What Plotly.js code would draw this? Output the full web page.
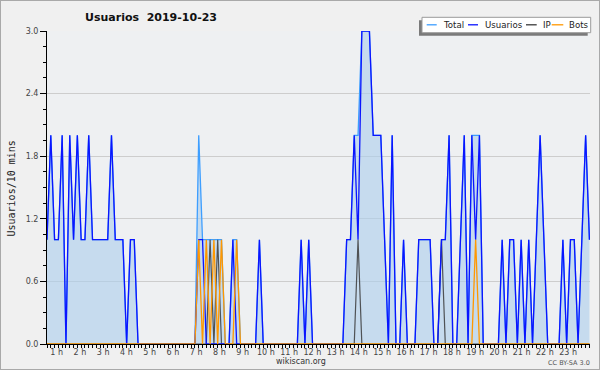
<!DOCTYPE html>
<html><head><meta charset="utf-8">
<script src="https://cdn.plot.ly/plotly-3.0.1.min.js"></script>
<style>
html,body{margin:0;padding:0;background:#f0f0f0;}
#wrap{width:600px;height:370px;box-sizing:border-box;border:1px solid #a9a9a9;overflow:hidden;}
#chart{width:598px;height:368px;}
</style></head><body><div id="wrap"><div id="chart"></div></div>
<script>
// 10-minute steps over the day (index 0..143)
const usuarios = [1,2,1,1,2,0,2,1,2,1, 1,2,1,1,1,1,1,2,1,1, 1,0,1,1,0,0,0,0,0,0,
  0,0,0,0,0,0,0,0,0,0, 1,1,0,0,0,0,0,0,0,1, 0,0,0,0,0,0,1,0,0,0,
  0,0,0,0,0,0,0,1,0,1, 0,0,0,0,0,0,0,0,0,1, 1,2,1,3,3,3,2,2,2,1,
  0,2,0,0,1,0,0,0,1,1, 1,1,0,0,1,1,2,0,0,1, 2,0,2,1,2,0,0,0,0,0,
  1,0,1,1,0,1,0,1,0,1, 2,1,0,0,0,0,1,0,1,1, 0,1,2,1];
const ip = [0,0,0,0,0,0,0,0,0,0, 0,0,0,0,0,0,0,0,0,0, 0,0,0,0,0,0,0,0,0,0,
  0,0,0,0,0,0,0,0,0,0, 0,0,0,1,0,1,0,0,0,0, 0,0,0,0,0,0,0,0,0,0,
  0,0,0,0,0,0,0,0,0,0, 0,0,0,0,0,0,0,0,0,0, 0,0,1,0,0,0,0,0,0,0,
  0,0,0,0,0,0,0,0,0,0, 0,0,0,0,1,0,0,0,0,0, 0,0,0,0,0,0,0,0,0,0,
  0,0,0,0,0,0,0,0,0,0, 0,0,0,0,0,0,0,0,0,0, 0,0,0,0];
const bots = [0,0,0,0,0,0,0,0,0,0, 0,0,0,0,0,0,0,0,0,0, 0,0,0,0,0,0,0,0,0,0,
  0,0,0,0,0,0,0,0,0,0, 1,0,1,0,1,0,1,0,0,0, 1,0,0,0,0,0,0,0,0,0,
  0,0,0,0,0,0,0,0,0,0, 0,0,0,0,0,0,0,0,0,0, 0,0,0,0,0,0,0,0,0,0,
  0,0,0,0,0,0,0,0,0,0, 0,0,0,0,0,0,0,0,0,0, 0,0,0,1,0,0,0,0,0,0,
  0,0,0,0,0,0,0,0,0,0, 0,0,0,0,0,0,0,0,0,0, 0,0,0,0];
const total = [1,2,1,1,2,0,2,1,2,1, 1,2,1,1,1,1,1,2,1,1, 1,0,1,1,0,0,0,0,0,0,
  0,0,0,0,0,0,0,0,0,0, 2,1,1,1,1,1,1,0,0,1, 1,0,0,0,0,0,1,0,0,0,
  0,0,0,0,0,0,0,1,0,1, 0,0,0,0,0,0,0,0,0,1, 1,2,2,3,3,3,2,2,2,1,
  0,2,0,0,1,0,0,0,1,1, 1,1,0,0,1,1,2,0,0,1, 2,0,2,2,2,0,0,0,0,0,
  1,0,1,1,0,1,0,1,0,1, 2,1,0,0,0,0,1,0,1,1, 0,1,2,1];
const hourLabels = ['1 h','2 h','3 h','4 h','5 h','6 h','7 h','8 h','9 h','10 h','11 h','12 h',
  '13 h','14 h','15 h','16 h','17 h','18 h','19 h','20 h','21 h','22 h','23 h'];
const yTicks = [0, 0.6, 1.2, 1.8, 2.4, 3.0];
const seriesNames = ['Total','Usuarios','IP','Bots'];
const seriesColors = ['#3d9eff','#0a14ff','#3a3a3a','#ff9800'];

const steps = usuarios.map((_, i) => i);

// plot area in pixels (inside the 598x368 chart div)
const L = 46, T = 30, W = 543, H = 313;
const px = x => (x - L) / W;
const py = y => (T + H - y) / H;

const traces = [
  {x: steps, y: total, type: 'scatter', mode: 'lines', fill: 'tozeroy',
   fillcolor: 'rgba(172,206,236,0.62)', line: {color: seriesColors[0], width: 1.3}, hoverinfo: 'skip'},
  {x: steps, y: ip, type: 'scatter', mode: 'lines', line: {color: seriesColors[2], width: 1.2}, opacity: 0.85},
  {x: steps, y: usuarios, type: 'scatter', mode: 'lines', line: {color: seriesColors[1], width: 1.3}},
  {x: steps, y: bots, type: 'scatter', mode: 'lines', line: {color: seriesColors[3], width: 1.3}}
];

const baseFont = {family: 'DejaVu Sans', size: 8, color: '#444'};

// legend box (manual, with offset shadow)
const lg = {l: 421, r: 589.7, t: 16.3, b: 31.7};
const shapes = [
  {type: 'rect', xref: 'paper', yref: 'paper', x0: px(lg.l - 3), x1: px(lg.r - 3), y0: py(lg.b + 3), y1: py(lg.t + 3),
   fillcolor: '#7a7a7a', line: {width: 0}, layer: 'above'},
  {type: 'rect', xref: 'paper', yref: 'paper', x0: px(lg.l), x1: px(lg.r), y0: py(lg.b), y1: py(lg.t),
   fillcolor: '#ffffff', line: {color: '#9a9a9a', width: 1}, layer: 'above'}
];
const legendItems = [
  {x0: 425.7, x1: 435.7, tx: 441},
  {x0: 467, x1: 477, tx: 482.5},
  {x0: 525, x1: 535.7, tx: 540.5},
  {x0: 550.7, x1: 562.3, tx: 566.5}
];
const annotations = [];
legendItems.forEach((it, k) => {
  shapes.push({type: 'line', xref: 'paper', yref: 'paper', x0: px(it.x0), x1: px(it.x1), y0: py(23.8), y1: py(23.8),
    line: {color: seriesColors[k], width: 1.3}, layer: 'above'});
  annotations.push({xref: 'paper', yref: 'paper', x: px(it.tx), y: py(24), xanchor: 'left', yanchor: 'middle',
    text: seriesNames[k], showarrow: false, font: {family: 'DejaVu Sans', size: 8.6, color: '#222'}, borderpad: 0});
});
annotations.push(
  {xref: 'paper', yref: 'paper', x: px(9.5), y: py(188), text: 'Usuarios/10 mins', textangle: -90, showarrow: false,
   xanchor: 'center', yanchor: 'middle', font: {family: 'DejaVu Sans Mono', size: 10, color: '#222'}},
  {xref: 'paper', yref: 'paper', x: px(300), y: py(360.5), text: 'wikiscan.org', showarrow: false,
   xanchor: 'center', yanchor: 'middle', font: {family: 'DejaVu Sans', size: 8, color: '#333'}},
  {xref: 'paper', yref: 'paper', x: px(568), y: py(361.5), text: 'CC BY-SA 3.0', showarrow: false,
   xanchor: 'center', yanchor: 'middle', font: {family: 'DejaVu Sans', size: 6.5, color: '#555'}}
);

const layout = {
  width: 598, height: 368,
  margin: {l: L, r: 598 - L - W, t: T, b: 368 - T - H, pad: 0},
  paper_bgcolor: '#f0f0f0', plot_bgcolor: '#eef0f2',
  showlegend: false,
  title: {text: 'Usuarios\u00a0\u00a02019-10-23', font: {family: 'DejaVu Sans', size: 11, color: '#111', weight: 'bold'},
          xref: 'container', yref: 'container', x: 150 / 598, xanchor: 'center', y: 1 - 16.5 / 368, yanchor: 'middle'},
  xaxis: {
    range: [0, 143.15], showline: true, linecolor: '#000', linewidth: 1, mirror: false, zeroline: false, showgrid: false,
    tickmode: 'array', tickvals: hourLabels.map((_, k) => (k + 1) * 6.13 - 3.6), ticktext: hourLabels,
    ticks: 'outside', ticklen: 0, tickfont: baseFont,
    minor: {tick0: 0, dtick: 1, ticks: 'outside', ticklen: 3, tickcolor: '#000', tickwidth: 1, showgrid: false}
  },
  yaxis: {
    range: [0, 3], showline: true, linecolor: '#000', linewidth: 1, zeroline: false,
    tickmode: 'array', tickvals: yTicks, ticktext: yTicks.map(v => v.toFixed(1)),
    ticks: 'outside', ticklen: 6, tickcolor: '#000', tickfont: baseFont,
    showgrid: true, gridcolor: '#cdcdcd', gridwidth: 1,
    minor: {tick0: 0, dtick: 0.15, ticks: 'outside', ticklen: 3, tickcolor: '#000', showgrid: false}
  },
  shapes: shapes,
  annotations: annotations
};

Plotly.newPlot('chart', traces, layout, {staticPlot: true, displayModeBar: false});
</script></body></html>
